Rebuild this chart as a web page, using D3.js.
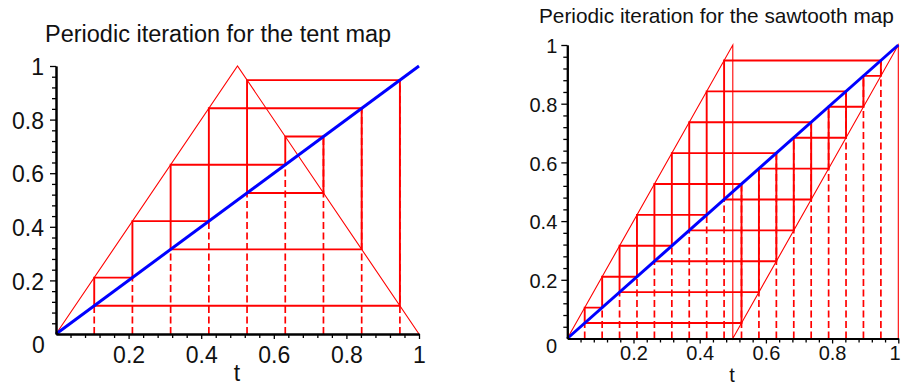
<!DOCTYPE html>
<html lang="en">
<head>
    <meta charset="UTF-8">
    <title>Periodic iteration</title>
    <script src="https://d3js.org/d3.v7.min.js"></script>
    <style>
        body {margin: 0; background: #fff;}
        svg {display: block;}
        text {font-family: "Liberation Sans", Arial, sans-serif; fill: #111;}
    </style>
</head>
<body>
<script>
    const width = 901;
    const height = 384;

    // graph of each map, as (t, f(t)) vertices
    const tentMap = [[0, 0], [0.5, 1], [1, 0]];
    const sawMap  = [[0, 0], [0.5, 1], [0.5, 0], [1, 1], [1, 0]];
    const diagonal = [[0, 0], [1, 1]];

    // periodic orbits (period 9 and period 18)
    const tentOrbit = [0.1053, 0.2105, 0.4211, 0.8421, 0.3158, 0.6316, 0.7368, 0.5263, 0.9474];
    const sawOrbit  = [0.0526, 0.1053, 0.2105, 0.4211, 0.8421, 0.6842, 0.3684, 0.7368, 0.4737,
                       0.9474, 0.8947, 0.7895, 0.5789, 0.1579, 0.3158, 0.6316, 0.2632, 0.5263];

    const majorTicks = [0.2, 0.4, 0.6, 0.8, 1];
    const minorTicks = [0.04, 0.08, 0.12, 0.16, 0.24, 0.28, 0.32, 0.36, 0.44, 0.48, 0.52, 0.56,
                        0.64, 0.68, 0.72, 0.76, 0.84, 0.88, 0.92, 0.96];
    const titles = ["Periodic iteration for the tent map", "Periodic iteration for the sawtooth map"];
    const axisLabel = "t";

    const svg = d3.select("body").append("svg")
            .attr("width", width).attr("height", height);

    const panels = [
        {title: titles[0], map: tentMap, orbit: tentOrbit,
         left: 56, right: 419, bottom: 334, top: 66, font: 23, titleFont: 23.5,
         titleX: 45, titleY: 41.5, yPad: 6, xPad: 8, tX: 237, tY: 380.5, zeroX: 38.5, zeroY: 352.5},
        {title: titles[1], map: sawMap, orbit: sawOrbit,
         left: 567.3, right: 898.3, bottom: 338.5, top: 45, font: 20, titleFont: 20.8,
         titleX: 539, titleY: 23.3, yPad: 4, xPad: 2.5, tX: 732, tY: 381.5, zeroX: 551.5, zeroY: 353}
    ];

    panels.forEach(drawPanel);

    function drawPanel(p) {
        const x = d3.scaleLinear().domain([0, 1]).range([p.left, p.right]);
        const y = d3.scaleLinear().domain([0, 1]).range([p.bottom, p.top]);
        const line = d3.line().x(d => x(d[0])).y(d => y(d[1]));

        const g = svg.append("g");

        // dashed drops from the axis to the diagonal
        g.selectAll("line.drop")
                .data(p.orbit)
                .join("line")
                .attr("class", "drop")
                .attr("x1", d => x(d)).attr("x2", d => x(d))
                .attr("y1", y(0)).attr("y2", d => y(d))
                .style("stroke", "#ff0000")
                .style("stroke-width", 1.7)
                .style("stroke-dasharray", "7,3.5");

        // the map itself
        g.append("path")
                .datum(p.map)
                .attr("d", line)
                .style("fill", "none")
                .style("stroke", "#ff0000")
                .style("stroke-width", 1.1);

        // cobweb: (x_n,x_n) -> (x_n,x_n+1) -> (x_n+1,x_n+1)
        const web = [];
        p.orbit.forEach((v, i) => {
            const next = p.orbit[(i + 1) % p.orbit.length];
            web.push([v, v], [v, next]);
        });
        web.push([p.orbit[0], p.orbit[0]]);

        g.append("path")
                .datum(web)
                .attr("d", line)
                .style("fill", "none")
                .style("stroke", "#ff0000")
                .style("stroke-width", 1.9);

        // diagonal
        g.append("path")
                .datum(diagonal)
                .attr("d", line)
                .style("fill", "none")
                .style("stroke", "#0000ff")
                .style("stroke-width", 3);

        // axes: minor ticks first, then labelled majors
        const yMinor = g.append("g").attr("transform", `translate(${x(0)},0)`)
                .call(d3.axisLeft(y).tickValues(minorTicks).tickSize(4).tickSizeOuter(0).tickFormat(""));
        const yMajor = g.append("g").attr("transform", `translate(${x(0)},0)`)
                .call(d3.axisLeft(y).tickValues(majorTicks).tickSize(6).tickSizeOuter(0)
                        .tickPadding(p.yPad).tickFormat(d3.format("")));
        const xMinor = g.append("g").attr("transform", `translate(0,${y(0)})`)
                .call(d3.axisBottom(x).tickValues(minorTicks).tickSize(4).tickSizeOuter(0).tickFormat(""));
        const xMajor = g.append("g").attr("transform", `translate(0,${y(0)})`)
                .call(d3.axisBottom(x).tickValues(majorTicks).tickSize(5).tickSizeOuter(0)
                        .tickPadding(p.xPad).tickFormat(d3.format("")));

        [yMinor, yMajor, xMinor, xMajor].forEach(a => {
            a.selectAll(".domain").style("stroke", "#000").style("stroke-width", 2);
            a.selectAll(".tick line").style("stroke", "#000").style("stroke-width", 1.3);
            a.selectAll("text")
                    .style("font-family", '"Liberation Sans", Arial, sans-serif')
                    .style("font-size", p.font + "px")
                    .style("fill", "#111");
        });
        yMajor.selectAll("text").attr("dy", "0.38em");
        // keep the last x label inside the page
        xMajor.selectAll("text").filter(d => x(d) + p.font * 0.3 > width)
                .attr("text-anchor", "end").attr("x", width - 1 - x(1) + 0.5 * 0);

        // shared origin label
        g.append("text")
                .attr("x", p.zeroX).attr("y", p.zeroY)
                .attr("text-anchor", "middle")
                .style("font-size", p.font + "px")
                .text("0");

        g.append("text")
                .attr("x", p.tX).attr("y", p.tY)
                .attr("text-anchor", "middle")
                .style("font-size", p.font + "px")
                .text(axisLabel);

        g.append("text")
                .attr("x", p.titleX).attr("y", p.titleY)
                .style("font-size", p.titleFont + "px")
                .text(p.title);
    }
</script>
</body>
</html>
